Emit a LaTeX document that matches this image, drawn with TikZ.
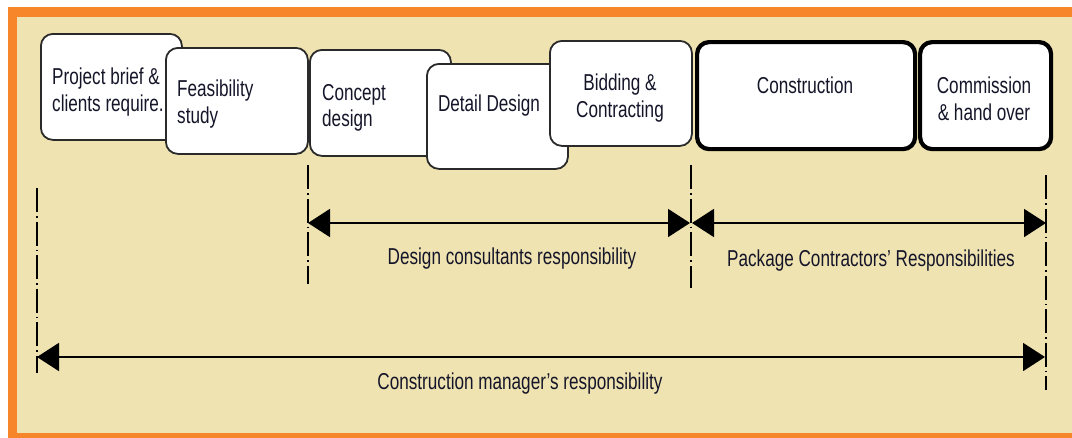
\documentclass[tikz,border=0pt]{standalone}
\usepackage{fontspec}
\setmainfont{Liberation Sans}[FakeStretch=0.745]
\usetikzlibrary{arrows.meta}
\definecolor{panel}{HTML}{EFE3B1}
\definecolor{frameorange}{HTML}{F7862A}
\definecolor{boxline}{HTML}{2A2A2A}
\definecolor{ink}{HTML}{15152A}
\begin{document}
\begin{tikzpicture}[x=1pt,y=-1pt,
  stage/.style={draw=boxline, line width=1.8pt, fill=white, rounded corners=12pt,
                inner sep=0pt, anchor=north west},
  bigstage/.style={stage, draw=black, line width=4.2pt},
  lbl/.style={text=ink, inner sep=0pt, font=\fontsize{23}{26.5}\selectfont},
  guide/.style={line width=1.1pt, dash pattern=on 24pt off 4pt on 1.5pt off 4pt},
  span/.style={line width=1.8pt, {Triangle[length=22pt,width=28pt]}-{Triangle[length=22pt,width=28pt]}}
]
\useasboundingbox (0,0) rectangle (1072,437);
% panel with orange frame (runs off the right and bottom edges)
\fill[panel] (12,12) rectangle (1100,450);
\draw[frameorange, line width=9.5pt] (12.5,12) rectangle (1100,437.5);

% stage boxes (later ones overlap earlier ones)
\node[stage, minimum width=141pt, minimum height=106pt] (b1) at (40,33) {};
\node[stage, minimum width=142pt, minimum height=106pt] (b2) at (165,47) {};
\node[stage, minimum width=141pt, minimum height=106pt] (b3) at (309,49) {};
\node[stage, minimum width=141pt, minimum height=105pt] (b4) at (426,63) {};
\node[stage, minimum width=142pt, minimum height=105pt] (b5) at (549,40) {};
\node[bigstage, minimum width=218pt, minimum height=107pt] (b6) at (695,40) {};
\node[bigstage, minimum width=131pt, minimum height=107pt] (b7) at (918,40) {};

% stage texts
\node[lbl, align=left, anchor=west] (t1) at (52,92) {Project brief \&\\clients require.};
\node[lbl, align=left, anchor=west] (t2) at (177,104) {Feasibility\\study};
\node[lbl, align=left, anchor=west] (t3) at (322,108) {Concept\\design};
\node[lbl, align=center] (t4) at (489,106) {Detail Design};
\node[lbl, align=center] (t5) at (620,98) {Bidding \&\\Contracting};
\node[lbl, align=center] (t6) at (805,85) {Construction};
\node[lbl, align=center] (t7) at (984,99) {Commission\\\& hand over};

% dash-dot guide lines
\coordinate (g1t) at (37,188);   \coordinate (g1b) at (37,373);
\coordinate (g2t) at (308,165);  \coordinate (g2b) at (308,284);
\coordinate (g3t) at (691,165);  \coordinate (g3b) at (691,288);
\coordinate (g4t) at (1046,175); \coordinate (g4b) at (1046,390);
\draw[guide] (g1t) -- (g1b);
\draw[guide] (g2t) -- (g2b);
\draw[guide] (g3t) -- (g3b);
\draw[guide] (g4t) -- (g4b);

% responsibility spans
\coordinate (d1) at (308,223);  \coordinate (d2) at (690,223);
\coordinate (p1) at (692,223);  \coordinate (p2) at (1046,223);
\coordinate (m1) at (37,357);   \coordinate (m2) at (1045,357);
\draw[span] (d1) -- (d2);
\draw[span] (p1) -- (p2);
\draw[span] (m1) -- (m2);

\node[lbl] (s1) at (512,259) {Design consultants responsibility};
\node[lbl] (s2) at (871,261) {Package Contractors’ Responsibilities};
\node[lbl] (s3) at (520,384) {Construction manager’s responsibility};
\end{tikzpicture}
\end{document}
